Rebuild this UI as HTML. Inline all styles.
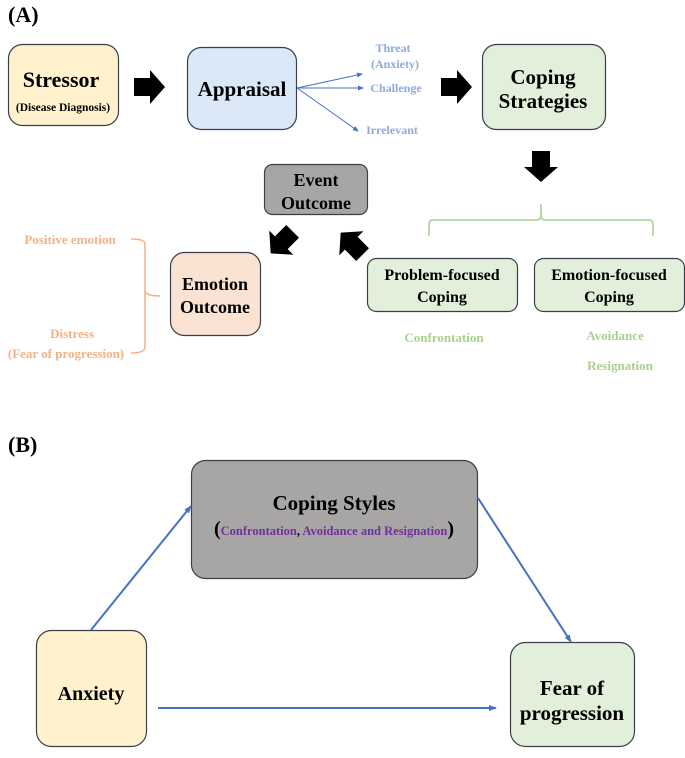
<!DOCTYPE html>
<html><head><meta charset="utf-8"><style>
body{margin:0;background:#fff}
svg text{font-family:"Liberation Serif",serif;font-weight:bold}
</style></head><body>
<svg width="685" height="753" viewBox="0 0 685 753" xmlns="http://www.w3.org/2000/svg">
<defs>
<marker id="ab" markerWidth="8" markerHeight="8" refX="7" refY="4" orient="auto" markerUnits="userSpaceOnUse"><path d="M0,1 L8,4 L0,7 z" fill="#4472c4"/></marker>
<marker id="ab2" markerWidth="6" markerHeight="6" refX="5" refY="3" orient="auto" markerUnits="userSpaceOnUse"><path d="M0,0.5 L6,3 L0,5.5 z" fill="#4472c4"/></marker>
<path id="blk" d="M-15,-9 L1,-9 L1,-17 L16,0 L1,17 L1,9 L-15,9 z" fill="#000"/>
</defs>
<text x="8" y="22" font-size="22">(A)</text>
<rect x="8.5" y="44.5" width="110" height="81" rx="14" fill="#fff2cc" stroke="#3a3f4a" stroke-width="1.2"/>
<text x="61" y="87" font-size="22" text-anchor="middle">Stressor</text>
<text x="63" y="111" font-size="11.5" text-anchor="middle">(Disease Diagnosis)</text>
<rect x="187.5" y="47.5" width="109" height="82" rx="14" fill="#dae8f8" stroke="#3a3f4a" stroke-width="1.2"/>
<text x="242" y="96" font-size="21" text-anchor="middle">Appraisal</text>
<rect x="482.5" y="44.5" width="123" height="85" rx="14" fill="#e2efda" stroke="#3a3f4a" stroke-width="1.2"/>
<text x="543" y="84" font-size="21" text-anchor="middle">Coping</text>
<text x="543" y="108" font-size="21" text-anchor="middle">Strategies</text>
<rect x="264.5" y="164.5" width="103" height="50" rx="8" fill="#a8a5a5" stroke="#3a3f4a" stroke-width="1.2"/>
<text x="316" y="186" font-size="18" text-anchor="middle">Event</text>
<text x="316" y="209" font-size="18" text-anchor="middle">Outcome</text>
<rect x="170.5" y="252.5" width="90" height="83" rx="14" fill="#fbe3d4" stroke="#3a3f4a" stroke-width="1.2"/>
<text x="215" y="290" font-size="18" text-anchor="middle">Emotion</text>
<text x="215" y="313" font-size="18" text-anchor="middle">Outcome</text>
<rect x="367.5" y="258.5" width="150" height="53" rx="9" fill="#e2efda" stroke="#3a3f4a" stroke-width="1.2"/>
<text x="442" y="280" font-size="16" text-anchor="middle">Problem-focused</text>
<text x="442" y="302" font-size="16" text-anchor="middle">Coping</text>
<rect x="534.5" y="258.5" width="150" height="53" rx="9" fill="#e2efda" stroke="#3a3f4a" stroke-width="1.2"/>
<text x="609" y="280" font-size="16" text-anchor="middle">Emotion-focused</text>
<text x="609" y="302" font-size="16" text-anchor="middle">Coping</text>
<use href="#blk" transform="translate(149,87)"/>
<use href="#blk" transform="translate(456,87)"/>
<use href="#blk" transform="translate(541,166) rotate(90)"/>
<use href="#blk" transform="translate(282,242) rotate(135)"/>
<use href="#blk" transform="translate(352,244) rotate(-135)"/>
<g stroke="#4472c4" stroke-width="1" fill="none">
<line x1="297" y1="88" x2="362" y2="74" marker-end="url(#ab2)"/>
<line x1="297" y1="88" x2="363" y2="88" marker-end="url(#ab2)"/>
<line x1="297" y1="88" x2="358" y2="131" marker-end="url(#ab2)"/>
</g>
<g fill="#8eaadb" font-size="12" text-anchor="middle">
<text x="393" y="52">Threat</text>
<text x="395" y="68">(Anxiety)</text>
<text x="396" y="92">Challenge</text>
<text x="392" y="134">Irrelevant</text>
</g>
<path d="M429,236 L429,224 Q429,220 433,220 L537,220 Q541,220 541,214 L541,204 M541,214 Q541,220 545,220 L649,220 Q653,220 653,224 L653,236" fill="none" stroke="#a9d18e" stroke-width="1.5"/>
<g fill="#a9d18e" font-size="13" text-anchor="middle">
<text x="444" y="342">Confrontation</text>
<text x="615" y="340">Avoidance</text>
<text x="620" y="370">Resignation</text>
</g>
<path d="M131,239 Q145,239 145,244 L145,290 Q145,296 160,296 M145,290 Q145,296 145,302 L145,347 Q145,353 131,353" fill="none" stroke="#f4b183" stroke-width="1.5"/>
<g fill="#f4b183" font-size="13" text-anchor="middle">
<text x="70" y="244">Positive emotion</text>
<text x="72" y="338">Distress</text>
<text x="66" y="358">(Fear of progression)</text>
</g>
<text x="8" y="452" font-size="22">(B)</text>
<rect x="191.5" y="460.5" width="286" height="118" rx="14" fill="#a8a5a5" stroke="#3a3f4a" stroke-width="1.2"/>
<text x="334" y="510" font-size="21" text-anchor="middle">Coping Styles</text>
<text x="334" y="535" font-size="12.5" text-anchor="middle" fill="#7030a0"><tspan fill="#000" font-size="20">(</tspan>Confrontation<tspan fill="#000">,</tspan> Avoidance and Resignation<tspan fill="#000" font-size="20">)</tspan></text>
<rect x="36.5" y="630.5" width="110" height="116" rx="15" fill="#fff2cc" stroke="#3a3f4a" stroke-width="1.2"/>
<text x="91" y="700" font-size="20" text-anchor="middle">Anxiety</text>
<rect x="510.5" y="642.5" width="124" height="104" rx="15" fill="#e2efda" stroke="#3a3f4a" stroke-width="1.2"/>
<text x="572" y="695" font-size="21" text-anchor="middle">Fear of</text>
<text x="572" y="720" font-size="21" text-anchor="middle">progression</text>
<g stroke="#4472c4" stroke-width="2" fill="none">
<line x1="91" y1="630" x2="191" y2="506" marker-end="url(#ab)"/>
<line x1="478" y1="498" x2="571" y2="642" marker-end="url(#ab)"/>
<line x1="158" y1="708" x2="496" y2="708" marker-end="url(#ab)"/>
</g>
</svg>
</body></html>
